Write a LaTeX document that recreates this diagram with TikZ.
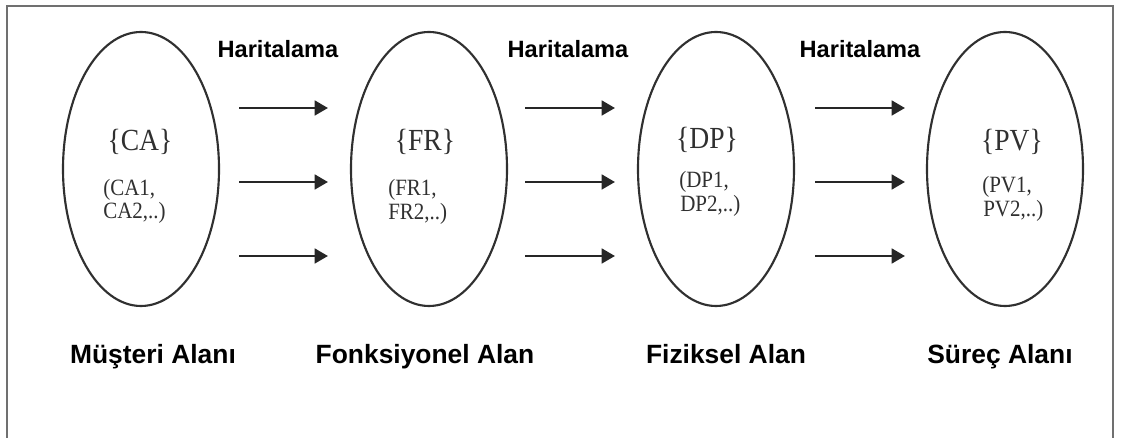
\documentclass[tikz,border=0pt]{standalone}
\usepackage{fontspec}
\setmainfont{Liberation Serif}
\newfontfamily\labelfont{Liberation Sans}
\newfontfamily\setfont[FakeStretch=0.9]{Liberation Serif}
\usetikzlibrary{shapes.geometric,arrows.meta}
\definecolor{inkgray}{HTML}{303030}
\definecolor{framegray}{HTML}{707070}
\begin{document}
\begin{tikzpicture}[x=0.75pt,y=-0.75pt,
  spacebubble/.style={ellipse,draw=inkgray,line width=1.6pt,minimum width=117pt,minimum height=205.5pt,inner sep=0pt},
  mapping/.style={draw=black!85,line width=2pt,-{Triangle[length=10pt,width=11pt]}},
  maplabel/.style={font=\labelfont\bfseries\fontsize{17.7}{20}\selectfont,inner sep=0pt,anchor=base},
  spacelabel/.style={font=\labelfont\bfseries\fontsize{19.8}{22}\selectfont,inner sep=0pt,anchor=base},
  setname/.style={font=\setfont\fontsize{23}{26}\selectfont,text=inkgray,inner sep=0pt,anchor=base},
  member/.style={font=\setfont\fontsize{17.5}{19}\selectfont,text=inkgray,inner sep=0pt,anchor=base west}]
  \useasboundingbox (0,0) rectangle (1122,438);
  % outer frame (open at the bottom)
  \draw[framegray,line width=1.6pt] (7,440) -- (7,6) -- (1113,6) -- (1113,440);

  % the four spaces
  \node[spacebubble] (ca) at (141,169) {};
  \node[spacebubble] (fr) at (429,169) {};
  \node[spacebubble] (dp) at (716,169) {};
  \node[spacebubble] (pv) at (1005,169) {};

  % set names and members
  \node[setname] (caname) at (140,151) {\{CA\}};
  \node[member] (ca1) at (103,196) {(CA1,};
  \node[member] (ca2) at (103,219) {CA2,..)};
  \node[setname] (frname) at (425,151) {\{FR\}};
  \node[member] (fr1) at (388,196) {(FR1,};
  \node[member] (fr2) at (388,220) {FR2,..)};
  \node[setname] (dpname) at (707,149) {\{DP\}};
  \node[member] (dp1) at (679,188) {(DP1,};
  \node[member] (dp2) at (680,212) {DP2,..)};
  \node[setname] (pvname) at (1012,151) {\{PV\}};
  \node[member] (pv1) at (982,193) {(PV1,};
  \node[member] (pv2) at (983,217) {PV2,..)};

  % mapping labels
  \node[maplabel] (m1) at (278,58) {Haritalama};
  \node[maplabel] (m2) at (568,58) {Haritalama};
  \node[maplabel] (m3) at (860,58) {Haritalama};

  % mapping arrows
  \foreach \s/\e/\n in {239/328/a,525/615/b,815/905/c}{
    \foreach \y/\k in {108/1,182/2,256/3}{
      \coordinate (\n\k s) at (\s,\y);
      \coordinate (\n\k e) at (\e,\y);
      \draw[mapping] (\n\k s) -- (\n\k e);
    }
  }

  % space names
  \node[spacelabel] (l1) at (153,364) {Müşteri Alanı};
  \node[spacelabel] (l2) at (425,364) {Fonksiyonel Alan};
  \node[spacelabel] (l3) at (726,364) {Fiziksel Alan};
  \node[spacelabel] (l4) at (1000,364) {Süreç Alanı};
\end{tikzpicture}
\end{document}
